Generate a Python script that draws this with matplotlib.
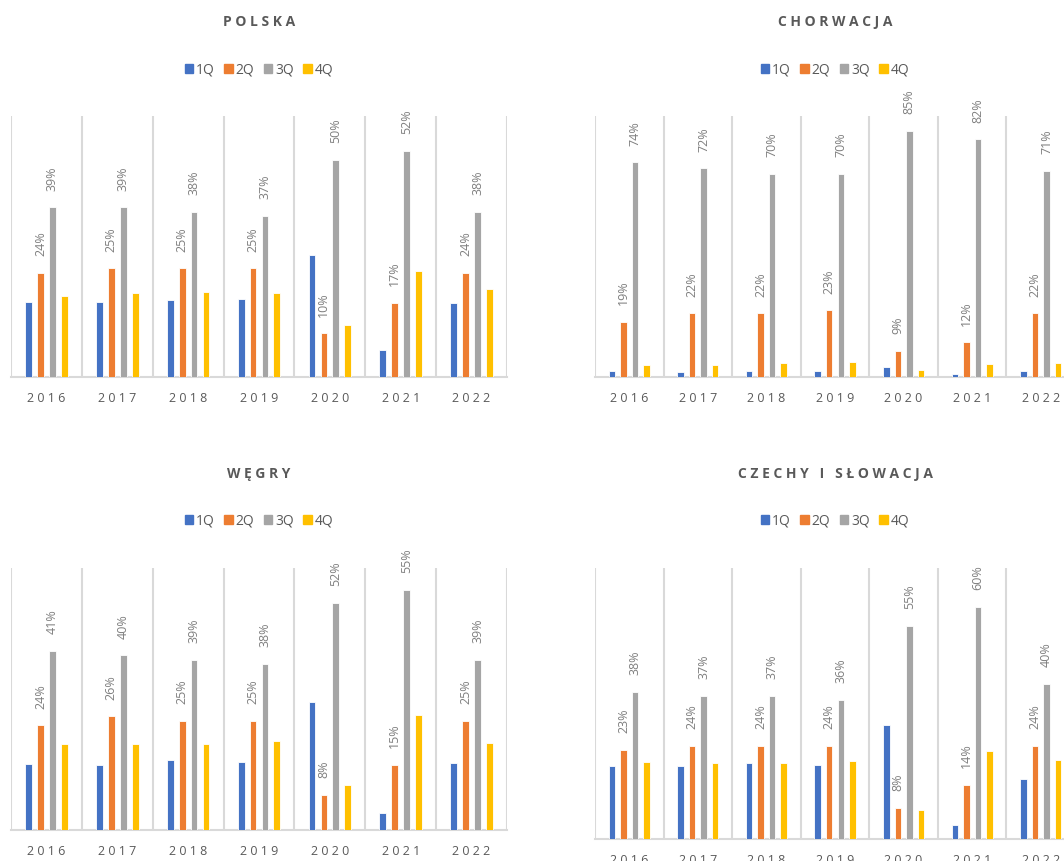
import numpy as np
import matplotlib
matplotlib.use('Agg')
import matplotlib.pyplot as plt
from matplotlib.patches import Patch

plt.rcParams['font.family'] = ['Open Sans', 'DejaVu Sans']

years = ['2016', '2017', '2018', '2019', '2020', '2021', '2022']
quarters = ['1Q', '2Q', '3Q', '4Q']
colors = ['#4472C4', '#ED7D31', '#A5A5A5', '#FFC000']

# udzial kwartalu w rocznym wyniku, w %
pl_q1 = [17.2, 17.2, 17.6, 17.9, 28.1, 6.2, 17.0]
pl_q2 = [24, 25, 25, 25, 10, 17, 24]
pl_q3 = [39, 39, 38, 37, 50, 52, 38]
pl_q4 = [18.7, 19.2, 19.6, 19.4, 11.9, 24.4, 20.3]

hr_q1 = [2.1, 1.7, 2.2, 2.1, 3.4, 1.1, 2.1]
hr_q2 = [19, 22, 22, 23, 9, 12, 22]
hr_q3 = [74, 72, 70, 70, 85, 82, 71]
hr_q4 = [4.3, 4.3, 4.7, 5.1, 2.4, 4.6, 4.8]

hu_q1 = [15.2, 14.9, 16.0, 15.6, 29.3, 3.8, 15.3]
hu_q2 = [24, 26, 25, 25, 8, 15, 25]
hu_q3 = [41, 40, 39, 38, 52, 55, 39]
hu_q4 = [19.8, 19.7, 19.7, 20.3, 10.3, 26.4, 19.9]

cz_q1 = [18.9, 18.9, 19.7, 19.0, 29.5, 3.5, 15.5]
cz_q2 = [23, 24, 24, 24, 8, 14, 24]
cz_q3 = [38, 37, 37, 36, 55, 60, 40]
cz_q4 = [19.9, 19.7, 19.7, 20.1, 7.4, 22.8, 20.5]

W, H = 1064, 861
fig = plt.figure(figsize=(W / 100, H / 100), dpi=100)

panels = [
    ('POLSKA', [pl_q1, pl_q2, pl_q3, pl_q4], 60, (11, 116, 496, 377), 22, 70),
    ('CHORWACJA', [hr_q1, hr_q2, hr_q3, hr_q4], 90, (595, 116, 480, 377), 22, 70),
    ('WĘGRY', [hu_q1, hu_q2, hu_q3, hu_q4], 60, (11, 568, 496, 830), 474, 521),
    ('CZECHY I SŁOWACJA', [cz_q1, cz_q2, cz_q3, cz_q4], 70, (595, 568, 480, 839), 474, 521),
]

def spaced(s):
    return '   '.join(' '.join(w) for w in s.split(' '))

x = np.arange(len(years))
bw = 0.095
step = 0.168

for title, series, ymax, (left, top, width, base), ty, ly in panels:
    ax = fig.add_axes([left / W, 1 - base / H, width / W, (base - top) / H])
    for i, vals in enumerate(series):
        bars = ax.bar(x + (i - 1.5) * step, vals, bw, color=colors[i],
                      edgecolor='white', linewidth=0.6, zorder=3)
        if i in (1, 2):
            ax.bar_label(bars, labels=[f'{v:.0f}%' for v in vals], rotation=90,
                         padding=12, color='#7f7f7f', fontsize=9)
    ax.set_xlim(-0.5, len(years) - 0.5)
    ax.set_ylim(0, ymax)
    ax.set_yticks([])
    ax.set_xticks(x)
    ax.set_xticklabels([spaced(y) for y in years], color='#595959', fontsize=9)
    ax.set_xticks(np.arange(-0.5, len(years), 1), minor=True)
    ax.grid(which='minor', axis='x', color='#d9d9d9', linewidth=1.5, zorder=0)
    ax.tick_params(axis='x', which='both', length=0, pad=11)
    for s in ['top', 'left', 'right']:
        ax.spines[s].set_visible(False)
    ax.spines['bottom'].set_color('#d9d9d9')
    ax.spines['bottom'].set_linewidth(1.5)

    cx = (left + width / 2) / W
    fig.text(cx, 1 - ty / H, spaced(title), ha='center', va='center',
             fontsize=10, fontweight='bold', color='#595959')
    handles = [Patch(color=c) for c in colors]
    ax.legend(handles, quarters, loc='center', bbox_to_anchor=(cx, 1 - ly / H),
              bbox_transform=fig.transFigure, ncol=4, frameon=False,
              handlelength=0.6, handleheight=0.6, handletextpad=0.2,
              columnspacing=0.7, fontsize=10, labelcolor='#595959')

fig.savefig('out.png', dpi=100)
